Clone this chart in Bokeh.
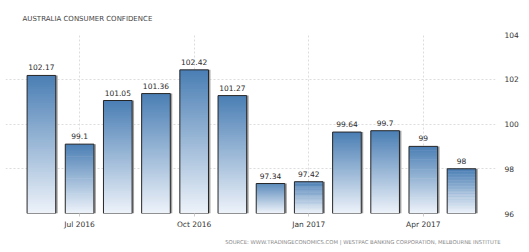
import numpy as np
from bokeh.plotting import figure
from bokeh.models import FixedTicker, Range1d, Title, ColumnDataSource
from bokeh.embed import file_html
from bokeh.resources import INLINE

months = ["Jun 2016", "Jul 2016", "Aug 2016", "Sep 2016", "Oct 2016", "Nov 2016",
          "Dec 2016", "Jan 2017", "Feb 2017", "Mar 2017", "Apr 2017", "May 2017"]
values = [102.17, 99.1, 101.05, 101.36, 102.42, 101.27, 97.34, 97.42, 99.64, 99.7, 99, 98]
tick_idx = [1, 4, 7, 10]
tick_labels = ["Jul 2016", "Oct 2016", "Jan 2017", "Apr 2017"]
y_ticks = [96, 98, 100, 102, 104]
base = 96

FONT = "DejaVu Sans"

p = figure(width=529, height=252, output_backend="svg", toolbar_location=None,
           x_range=Range1d(-0.94, 11.89), y_range=Range1d(96, 104),
           y_axis_location="right",
           min_border_left=5, min_border_right=34, min_border_top=33, min_border_bottom=39)
p.outline_line_color = None
p.background_fill_color = "white"

p.title.text = "AUSTRALIA CONSUMER CONFIDENCE"
p.title.text_font = FONT
p.title.text_font_size = "7px"
p.title.text_font_style = "normal"
p.title.text_color = "#444444"
p.title.offset = 17
p.title.standoff = 24

# gradient bars built from slices
N = 60
top_c = np.array([74, 126, 180])
bot_c = np.array([238, 243, 250])
xs, bots, tops, cols = [], [], [], []
half = 0.375
for i, v in enumerate(values):
    edges = np.linspace(base, v, N + 1)
    step = (v - base) / N
    for k in range(N):
        t = (k + 0.5) / N  # 0 bottom -> 1 top
        c = bot_c + (top_c - bot_c) * t
        xs.append(i)
        bots.append(edges[k])
        tops.append(min(edges[k + 1] + step * 0.6, v))
        cols.append("#%02x%02x%02x" % tuple(int(round(x)) for x in c))
src = ColumnDataSource(dict(left=[x - half for x in xs], right=[x + half for x in xs],
                            bottom=bots, top=tops, color=cols))
p.quad(left="left", right="right", bottom="bottom", top="top", fill_color="color",
       line_color=None, source=src)

idx = list(range(len(values)))
bsrc = ColumnDataSource(dict(left=[i - half for i in idx], right=[i + half for i in idx],
                             top=values, bottom=[base] * len(values), x=idx,
                             sx=[i + half + 0.025 for i in idx],
                             label=[("%g" % v) for v in values]))
p.segment(x0="sx", x1="sx", y0="bottom", y1="top", line_color="#a0a0a0", line_width=2, source=bsrc)
p.quad(left="left", right="right", bottom="bottom", top="top", fill_color=None,
       line_color="#262626", line_width=1, source=bsrc)
p.text(x="x", y="top", text="label", source=bsrc, text_align="center",
       text_baseline="bottom", y_offset=-5, text_font_size="7.5px",
       text_color="#2a2a2a", text_font={"value": FONT})

# axes
p.yaxis.ticker = FixedTicker(ticks=y_ticks)
p.yaxis.axis_line_color = None
p.yaxis.major_tick_line_color = None
p.yaxis.minor_tick_line_color = None
p.yaxis.major_label_standoff = 3
p.yaxis.major_label_text_font = FONT
p.yaxis.major_label_text_font_size = "7.5px"
p.yaxis.major_label_text_color = "#333333"

p.xaxis.ticker = FixedTicker(ticks=tick_idx)
p.xaxis.major_label_overrides = {i: l for i, l in zip(tick_idx, tick_labels)}
p.xaxis.axis_line_color = None
p.xaxis.major_tick_line_color = "#cccccc"
p.xaxis.major_tick_out = 3
p.xaxis.major_tick_in = 0
p.xaxis.minor_tick_line_color = None
p.xaxis.major_label_standoff = 3
p.xaxis.major_label_text_font = FONT
p.xaxis.major_label_text_font_size = "7.5px"
p.xaxis.major_label_text_color = "#333333"

p.xgrid.ticker = FixedTicker(ticks=tick_idx)
p.xgrid.grid_line_color = "#dddddd"
p.xgrid.grid_line_dash = "2 2"
p.ygrid.grid_line_color = "#dddddd"
p.ygrid.grid_line_dash = "2 2"

p.add_layout(Title(text="SOURCE: WWW.TRADINGECONOMICS.COM | WESTPAC BANKING CORPORATION, MELBOURNE INSTITUTE",
                   align="right", offset=-5, text_font=FONT, text_font_size="5.3px",
                   text_font_style="normal", text_color="#888888"), "below")

open("out.html", "w").write(file_html(p, INLINE))
